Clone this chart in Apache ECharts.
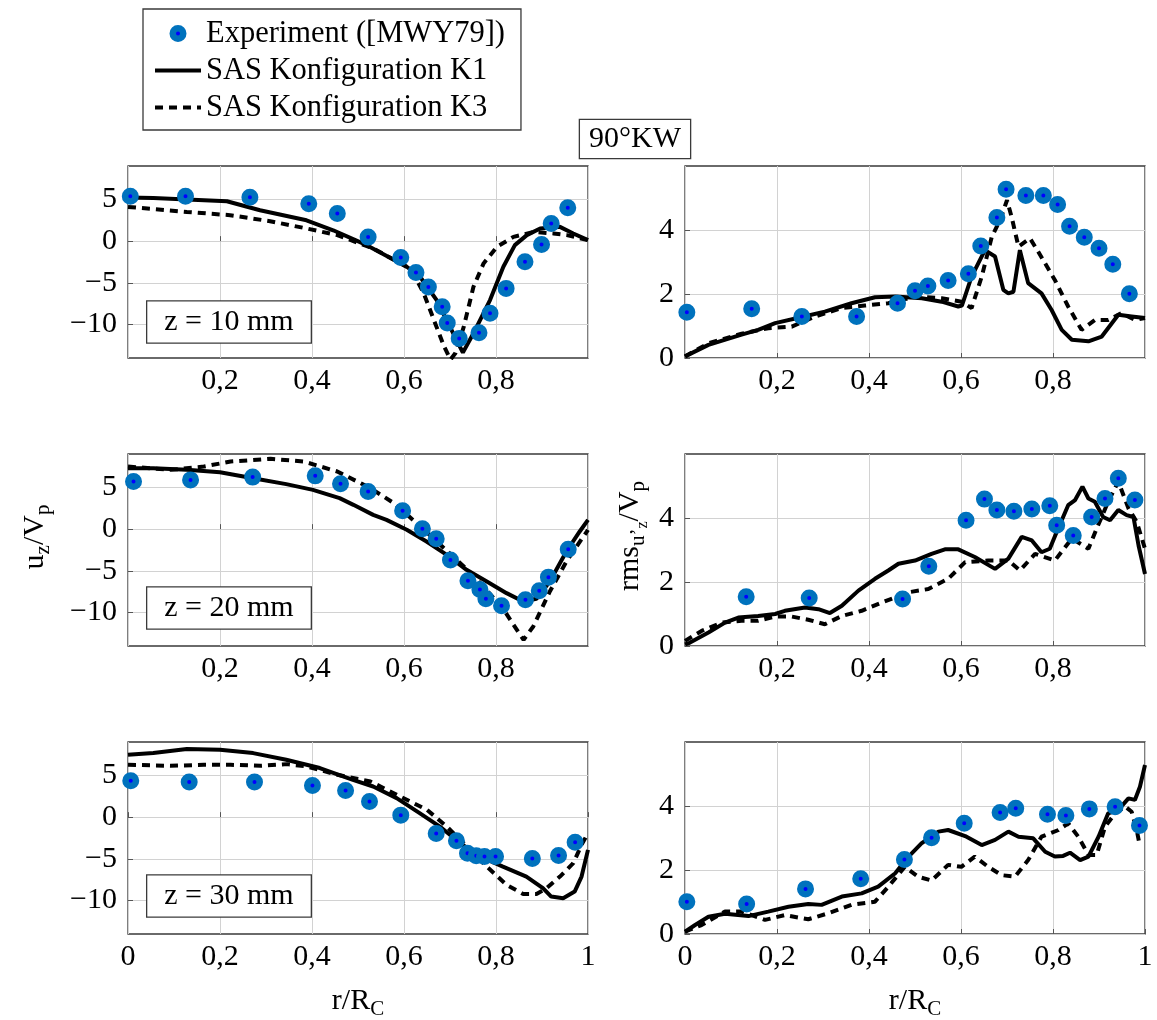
<!DOCTYPE html>
<html>
<head>
<meta charset="utf-8">
<script src="https://cdn.jsdelivr.net/npm/echarts@6/dist/echarts.min.js"></script>
<style>
  html, body { margin: 0; padding: 0; background: #fff; }
  #main { width: 1157px; height: 1020px; }
</style>
</head>
<body>
<div id="main"></div>
<script>
// ---- data ([x = r/R_C, y]) ----
// z = 10 mm, axial velocity
const uz10Exp = [[0.005,5.38],[0.125,5.38],[0.265,5.26],[0.393,4.47],[0.455,3.31],[0.522,0.48],[0.593,-1.95],[0.626,-3.75],[0.653,-5.5],[0.683,-7.85],[0.694,-9.8],[0.72,-11.65],[0.763,-10.97],[0.787,-8.65],[0.822,-5.66],[0.863,-2.47],[0.899,-0.4],[0.92,2.11],[0.956,3.99]];
const uz10K1 = [[0,5.22],[0.055,5.18],[0.128,5.0],[0.215,4.78],[0.287,3.7],[0.388,2.5],[0.446,1.3],[0.519,-0.48],[0.606,-3.07],[0.635,-4.27],[0.671,-7.06],[0.707,-11.04],[0.728,-13.36],[0.751,-11.04],[0.787,-7.06],[0.816,-3.07],[0.841,-0.48],[0.867,0.72],[0.896,1.52],[0.939,1.71],[0.968,0.92],[1.0,0.12]];
const uz10K3 = [[0,4.1],[0.128,3.5],[0.222,3.11],[0.309,2.39],[0.388,1.52],[0.455,0.72],[0.533,-0.88],[0.606,-3.07],[0.628,-4.67],[0.643,-6.26],[0.665,-9.45],[0.687,-12.6],[0.701,-14.2],[0.712,-13.4],[0.73,-10.25],[0.751,-5.47],[0.773,-2.67],[0.802,-0.68],[0.838,0.51],[0.882,1.11],[0.925,0.92],[0.954,0.72],[1.0,0.12]];
// z = 10 mm, rms
const rms10Exp = [[0.004,1.43],[0.145,1.54],[0.254,1.3],[0.373,1.3],[0.462,1.71],[0.5,2.1],[0.528,2.25],[0.572,2.42],[0.616,2.63],[0.643,3.5],[0.678,4.39],[0.698,5.27],[0.741,5.08],[0.779,5.08],[0.81,4.8],[0.836,4.12],[0.868,3.77],[0.9,3.43],[0.93,2.93],[0.966,2.01]];
const rms10K1 = [[0,0.05],[0.051,0.41],[0.123,0.73],[0.159,0.88],[0.196,1.09],[0.254,1.28],[0.304,1.45],[0.362,1.71],[0.413,1.9],[0.457,1.92],[0.515,1.87],[0.558,1.76],[0.594,1.61],[0.602,1.64],[0.623,2.54],[0.652,3.37],[0.674,3.17],[0.692,2.13],[0.703,2.02],[0.714,2.07],[0.728,3.37],[0.746,2.34],[0.775,2.02],[0.797,1.5],[0.819,0.88],[0.841,0.57],[0.877,0.52],[0.906,0.67],[0.942,1.35],[0.971,1.3],[1.0,1.25]];
const rms10K3 = [[0,0.05],[0.051,0.46],[0.123,0.76],[0.181,0.93],[0.232,0.98],[0.283,1.3],[0.341,1.56],[0.391,1.64],[0.442,1.71],[0.5,1.92],[0.558,1.87],[0.601,1.76],[0.623,1.56],[0.645,2.54],[0.667,3.79],[0.685,4.31],[0.7,4.93],[0.71,4.41],[0.725,3.48],[0.75,3.74],[0.768,3.32],[0.804,2.44],[0.833,1.61],[0.862,0.88],[0.891,1.19],[0.92,1.19],[0.949,1.4],[0.978,1.19],[1.0,1.25]];
// z = 20 mm, axial velocity
const uz20Exp = [[0.012,5.7],[0.136,5.9],[0.271,6.23],[0.407,6.38],[0.462,5.43],[0.522,4.5],[0.597,2.19],[0.64,0.04],[0.67,-1.16],[0.701,-3.71],[0.739,-6.19],[0.765,-7.23],[0.778,-8.35],[0.812,-9.19],[0.864,-8.47],[0.894,-7.39],[0.914,-5.75],[0.957,-2.4]];
const uz20K1 = [[0,7.3],[0.055,7.3],[0.128,7.1],[0.2,6.82],[0.272,6.1],[0.344,5.39],[0.402,4.7],[0.46,3.71],[0.49,2.91],[0.533,1.71],[0.562,1.11],[0.606,-0.08],[0.649,-1.48],[0.693,-3.08],[0.736,-4.87],[0.78,-6.27],[0.823,-7.67],[0.859,-8.67],[0.888,-8.35],[0.917,-6.27],[0.953,-2.68],[0.982,-0.28],[1.0,1.11]];
const uz20K3 = [[0,7.5],[0.093,7.1],[0.165,7.5],[0.223,8.1],[0.31,8.42],[0.382,8.1],[0.455,6.9],[0.527,4.91],[0.578,3.11],[0.636,0.31],[0.679,-1.88],[0.73,-4.48],[0.773,-6.87],[0.817,-9.67],[0.838,-11.46],[0.86,-13.26],[0.881,-11.66],[0.917,-7.47],[0.953,-3.88],[1.0,-0.08]];
// z = 20 mm, rms
const rms20Exp = [[0.133,1.54],[0.27,1.5],[0.473,1.47],[0.53,2.49],[0.611,3.93],[0.651,4.59],[0.678,4.25],[0.715,4.21],[0.754,4.28],[0.793,4.38],[0.808,3.77],[0.844,3.45],[0.884,4.03],[0.913,4.61],[0.942,5.24],[0.978,4.56]];
const rms20K1 = [[0,0.05],[0.01,0.1],[0.051,0.42],[0.087,0.73],[0.116,0.89],[0.159,0.94],[0.196,1.0],[0.217,1.1],[0.261,1.2],[0.29,1.15],[0.315,1.03],[0.341,1.26],[0.377,1.73],[0.413,2.1],[0.442,2.36],[0.464,2.57],[0.5,2.67],[0.536,2.88],[0.565,3.02],[0.594,3.02],[0.63,2.78],[0.674,2.41],[0.703,2.73],[0.732,3.41],[0.754,3.3],[0.775,2.93],[0.793,3.04],[0.808,3.56],[0.833,4.4],[0.848,4.56],[0.864,4.98],[0.877,4.61],[0.891,4.51],[0.909,4.03],[0.924,3.93],[0.942,4.25],[0.96,4.09],[0.975,4.03],[0.986,3.14],[1.0,2.25]];
const rms20K3 = [[0,0.16],[0.036,0.47],[0.08,0.73],[0.123,0.79],[0.159,0.79],[0.196,0.92],[0.232,0.92],[0.268,0.82],[0.304,0.68],[0.341,0.94],[0.384,1.1],[0.428,1.36],[0.486,1.68],[0.529,1.78],[0.572,2.1],[0.609,2.62],[0.659,2.67],[0.703,2.67],[0.728,2.36],[0.761,2.88],[0.804,2.67],[0.841,3.36],[0.877,3.04],[0.895,3.67],[0.92,4.51],[0.942,5.14],[0.964,4.3],[0.982,3.88],[1.0,3.04]];
// z = 30 mm, axial velocity
const uz30Exp = [[0.006,4.35],[0.133,4.2],[0.275,4.2],[0.401,3.79],[0.473,3.19],[0.525,1.87],[0.593,0.24],[0.67,-1.96],[0.714,-2.84],[0.738,-4.32],[0.757,-4.64],[0.775,-4.72],[0.799,-4.72],[0.879,-4.96],[0.936,-4.6],[0.972,-3.0]];
const uz30K1 = [[0,7.47],[0.055,7.67],[0.128,8.15],[0.2,8.07],[0.272,7.67],[0.344,6.87],[0.417,5.88],[0.489,4.47],[0.533,3.67],[0.584,2.28],[0.634,0.48],[0.678,-1.13],[0.722,-3.12],[0.765,-4.72],[0.815,-5.92],[0.866,-7.12],[0.902,-8.51],[0.92,-9.52],[0.946,-9.71],[0.971,-8.92],[0.986,-7.12],[1.0,-3.92]];
const uz30K3 = [[0,6.27],[0.092,6.15],[0.165,6.27],[0.223,6.27],[0.288,6.15],[0.346,6.35],[0.389,6.07],[0.455,5.07],[0.527,4.27],[0.592,2.47],[0.65,0.88],[0.693,-1.13],[0.737,-3.52],[0.78,-5.92],[0.823,-8.12],[0.859,-9.2],[0.888,-9.2],[0.91,-8.51],[0.939,-7.12],[0.968,-5.52],[0.986,-3.32],[1.0,-1.92]];
// z = 30 mm, rms
const rms30Exp = [[0.004,1.01],[0.134,0.94],[0.262,1.41],[0.382,1.73],[0.477,2.33],[0.536,3.01],[0.607,3.46],[0.685,3.8],[0.719,3.93],[0.788,3.74],[0.828,3.7],[0.879,3.91],[0.935,3.98],[0.988,3.39]];
const rms30K1 = [[0,0.07],[0.022,0.28],[0.051,0.54],[0.087,0.63],[0.138,0.56],[0.181,0.7],[0.225,0.85],[0.268,0.94],[0.297,0.91],[0.341,1.17],[0.384,1.27],[0.42,1.48],[0.457,1.9],[0.486,2.42],[0.514,2.83],[0.551,3.2],[0.572,3.25],[0.609,3.06],[0.645,2.78],[0.674,2.94],[0.703,3.2],[0.725,3.04],[0.757,2.99],[0.783,2.57],[0.804,2.42],[0.822,2.44],[0.837,2.54],[0.859,2.31],[0.877,2.42],[0.899,3.04],[0.92,3.77],[0.942,3.88],[0.964,4.24],[0.978,4.19],[0.989,4.6],[1.0,5.28]];
const rms30K3 = [[0,0.07],[0.036,0.28],[0.087,0.7],[0.123,0.7],[0.174,0.44],[0.217,0.59],[0.268,0.46],[0.312,0.65],[0.362,0.91],[0.413,1.01],[0.442,1.48],[0.478,2.1],[0.507,1.79],[0.536,1.67],[0.572,2.16],[0.601,2.1],[0.63,2.42],[0.659,2.1],[0.688,1.84],[0.717,1.79],[0.746,2.31],[0.775,3.04],[0.812,3.25],[0.833,3.46],[0.855,3.04],[0.877,2.47],[0.895,2.47],[0.913,3.35],[0.935,3.77],[0.957,3.98],[0.971,3.82],[0.982,3.25],[0.989,2.73]];

const seriesNames = ['Experiment ([MWY79])', 'SAS Konfiguration K1', 'SAS Konfiguration K3'];
const zLabels = ['z = 10 mm', 'z = 20 mm', 'z = 30 mm'];
const uzTicks = [-10, -5, 0, 5];
const rmsTicks = [0, 2, 4];

// panel order: row by row, left = u_z, right = rms
const panels = [
  [uz10Exp, uz10K1, uz10K3], [rms10Exp, rms10K1, rms10K3],
  [uz20Exp, uz20K1, uz20K3], [rms20Exp, rms20K1, rms20K3],
  [uz30Exp, uz30K1, uz30K3], [rms30Exp, rms30K1, rms30K3]
];

const FONT = '"Liberation Serif", "DejaVu Serif", serif';
const DASH = [8, 6];
const tops = [166, 454, 742];
const lefts = [128, 685];
const fmtX = v => (Math.abs(v) < 1e-9 ? '0' : Math.abs(v - 1) < 1e-9 ? '1' : v.toFixed(1).replace('.', ','));
const fmtY = v => (v < 0 ? '\u2212' + Math.abs(v) : String(v));

const chart = echarts.init(document.getElementById('main'));

const grids = [], xAxes = [], yAxes = [], series = [];
panels.forEach((p, i) => {
  const row = Math.floor(i / 2), col = i % 2;
  grids.push({
    left: lefts[col], top: tops[row], width: 460, height: 192,
    show: true, borderColor: '#3a3a3a', borderWidth: 1.3, backgroundColor: 'transparent'
  });
  xAxes.push({
    type: 'value', gridIndex: i, min: 0, max: 1, interval: 0.2,
    axisLine: { show: false },
    axisTick: { show: true, inside: true, length: 5, lineStyle: { color: '#555', width: 1 } },
    axisLabel: {
      showMinLabel: row === 2, showMaxLabel: row === 2, formatter: fmtX,
      fontFamily: FONT, fontSize: 30, color: '#000', margin: 8
    },
    splitLine: { show: true, lineStyle: { color: '#d2d2d2', width: 1 } }
  });
  const left = col === 0;
  yAxes.push({
    type: 'value', gridIndex: i,
    min: left ? -14 : 0, max: left ? 9 : 6,
    axisLine: { show: false },
    axisTick: { show: true, inside: true, length: 5, customValues: left ? uzTicks : rmsTicks, lineStyle: { color: '#555', width: 1 } },
    axisLabel: {
      customValues: left ? uzTicks : rmsTicks, formatter: fmtY,
      fontFamily: FONT, fontSize: 30, color: '#000', margin: 11
    },
    splitLine: { show: true, lineStyle: { color: '#d2d2d2', width: 1 } }
  });
  series.push({
    name: seriesNames[1], type: 'line', xAxisIndex: i, yAxisIndex: i, data: p[1],
    symbol: 'none', lineStyle: { color: '#000', width: 4 }, itemStyle: { color: '#000' }, z: 3
  });
  series.push({
    name: seriesNames[2], type: 'line', xAxisIndex: i, yAxisIndex: i, data: p[2],
    symbol: 'none', lineStyle: { color: '#000', width: 4, type: DASH }, itemStyle: { color: '#000' }, z: 3
  });
  series.push({
    name: seriesNames[0], type: 'scatter', xAxisIndex: i, yAxisIndex: i, data: p[0],
    symbol: 'circle', symbolSize: 10.5, clip: false,
    itemStyle: { color: '#0000ff', borderColor: '#0072bd', borderWidth: 6.5, opacity: 1 }, z: 4
  });
});

const graphics = [];
zLabels.forEach((t, r) => {
  graphics.push({
    type: 'text', x: 229, y: [322, 608, 896][r], z: 10,
    style: {
      text: t, font: '30px ' + FONT, fill: '#000', align: 'center', verticalAlign: 'middle',
      backgroundColor: '#fff', borderColor: '#3a3a3a', borderWidth: 1.3, padding: [6, 17, 5, 17]
    }
  });
});
graphics.push({
  type: 'text', x: 635, y: 139, z: 10,
  style: {
    text: '90°KW', font: '30px ' + FONT, fill: '#000', align: 'center', verticalAlign: 'middle',
    backgroundColor: '#fff', borderColor: '#3a3a3a', borderWidth: 1.3, padding: [4, 9, 4, 9]
  }
});
const rich = {
  m: { fontSize: 30, fontFamily: FONT, fill: '#000' },
  s: { fontSize: 21, fontFamily: FONT, fill: '#000', padding: [16, 0, 0, 0] },
  ss: { fontSize: 16, fontFamily: FONT, fill: '#000', padding: [26, 0, 0, 0] }
};
graphics.push({
  type: 'text', x: 35, y: 537, rotation: Math.PI / 2, z: 10,
  style: { text: '{m|u}{s|z}{m|/V}{s|p}', rich: rich, font: '30px ' + FONT, align: 'center', verticalAlign: 'middle' }
});
graphics.push({
  type: 'text', x: 630, y: 536, rotation: Math.PI / 2, z: 10,
  style: { text: '{m|rms}{s|u\u2019}{ss|z}{m|/V}{s|p}', rich: rich, font: '30px ' + FONT, align: 'center', verticalAlign: 'middle' }
});
[358, 915].forEach(cx => {
  graphics.push({
    type: 'text', x: cx, y: 1001, z: 10,
    style: { text: '{m|r/R}{s|C}', rich: rich, font: '30px ' + FONT, align: 'center', verticalAlign: 'middle' }
  });
});

const options = {
  backgroundColor: '#fff',
  animation: false,
  legend: {
    orient: 'vertical', left: 143, top: 9,
    padding: [9, 16, 7, 10], itemGap: 6, itemWidth: 46, itemHeight: 10.5,
    borderColor: '#3a3a3a', borderWidth: 1.3, backgroundColor: '#fff',
    textStyle: { fontFamily: FONT, fontSize: 30.5, color: '#000' },
    data: [
      { name: seriesNames[0], icon: 'circle', itemStyle: { color: '#0000ff', borderColor: '#0072bd', borderWidth: 6.5 } },
      { name: seriesNames[1], itemStyle: { opacity: 0 }, lineStyle: { color: '#000', width: 4, type: 'solid', opacity: 1 } },
      { name: seriesNames[2], itemStyle: { opacity: 0 }, lineStyle: { color: '#000', width: 4, type: DASH, opacity: 1 } }
    ]
  },
  grid: grids,
  xAxis: xAxes,
  yAxis: yAxes,
  series: series,
  graphic: graphics
};

chart.setOption(options);
</script>
</body>
</html>
